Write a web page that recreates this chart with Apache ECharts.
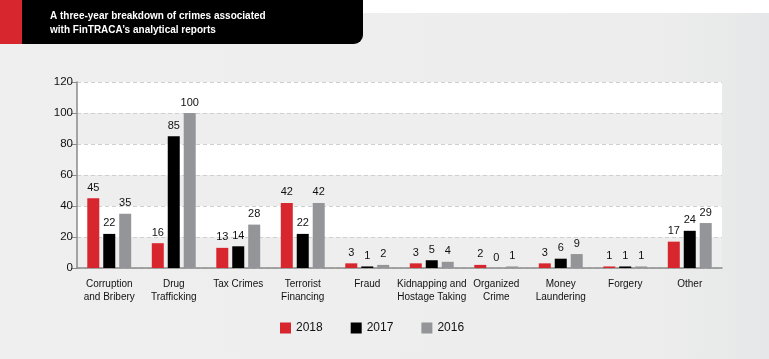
<!DOCTYPE html>
<html>
<head>
<meta charset="utf-8">
<script src="https://cdn.jsdelivr.net/npm/echarts@6/dist/echarts.min.js"></script>
<style>
html,body{margin:0;padding:0;background:#fff;}
#c{width:769px;height:359px;}
</style>
</head>
<body>
<div id="c"></div>
<script>
var categories = ['Corruption\nand Bribery', 'Drug\nTrafficking', 'Tax Crimes', 'Terrorist\nFinancing', 'Fraud', 'Kidnapping and\nHostage Taking', 'Organized\nCrime', 'Money\nLaundering', 'Forgery', 'Other'];
var s2018 = [45, 16, 13, 42, 3, 3, 2, 3, 1, 17];
var s2017 = [22, 85, 14, 22, 1, 5, 0, 6, 1, 24];
var s2016 = [35, 100, 28, 42, 2, 4, 1, 9, 1, 29];
var yTicks = [0, 20, 40, 60, 80, 100, 120];
var titleLines = ['A three-year breakdown of crimes associated', 'with FinTRACA\u2019s analytical reports'];

var FONT = '"Liberation Sans Narrow", "Liberation Sans", Arial, sans-serif';
var chart = echarts.init(document.getElementById('c'));

function mkSeries(name, data, color) {
  return {
    name: name, type: 'bar', data: data, barWidth: 12, barGap: '33%',
    itemStyle: { color: color },
    label: { show: true, position: 'top', distance: 5, fontFamily: FONT, fontSize: 11, color: '#111' }
  };
}

chart.setOption({
  animation: false,
  textStyle: { fontFamily: FONT },
  graphic: [
    { type: 'rect', z: -10, shape: { x: 0, y: 13, width: 769, height: 346 },
      style: { fill: new echarts.graphic.LinearGradient(0, 0, 1, 0, [{ offset: 0, color: '#efefef' }, { offset: 0.85, color: '#ededed' }, { offset: 1, color: '#e6e7e8' }]) } },
    { type: 'rect', z: 10, shape: { x: 0, y: 0, width: 22, height: 44 }, style: { fill: '#d7262e' } },
    { type: 'rect', z: 10, shape: { x: 22, y: 0, width: 341, height: 44, r: [0, 0, 9, 0] }, style: { fill: '#000' } },
    { type: 'text', z: 11, left: 50, top: 9,
      style: { text: titleLines.join('\n'), fill: '#fff', font: 'bold 10px "Liberation Sans", Arial, sans-serif', lineHeight: 14 } }
  ],
  legend: {
    left: 280, top: 322, padding: 0, itemWidth: 11, itemHeight: 11, itemGap: 28,
    icon: 'rect',
    textStyle: { fontFamily: FONT, fontSize: 12, color: '#111' },
    data: ['2018', '2017', '2016']
  },
  grid: { left: 77, right: 47, top: 82, bottom: 91 },
  xAxis: {
    type: 'category', data: categories,
    axisLine: { lineStyle: { color: '#8a8a8a', width: 1.5 } },
    axisTick: { show: false },
    axisLabel: { fontFamily: FONT, fontSize: 10, color: '#111', margin: 10, lineHeight: 13, interval: 0 }
  },
  yAxis: {
    type: 'value', min: 0, max: 120, interval: 20,
    axisLine: { show: true, lineStyle: { color: '#8a8a8a', width: 1.5 } },
    axisTick: { show: true, length: 6, lineStyle: { color: '#8a8a8a' } },
    axisLabel: { fontFamily: FONT, fontSize: 11.5, color: '#111', margin: 4,
      formatter: function (v) { return yTicks.indexOf(v) >= 0 ? String(v) : ''; } },
    splitLine: { show: true, lineStyle: { color: '#cfcfcf', type: [4, 3], width: 1 } },
    splitArea: { show: true, areaStyle: { color: ['#eeeeee', '#ffffff'] } }
  },
  series: [
    mkSeries('2018', s2018, '#d7262e'),
    mkSeries('2017', s2017, '#000000'),
    mkSeries('2016', s2016, '#939598')
  ]
});
</script>
</body>
</html>
